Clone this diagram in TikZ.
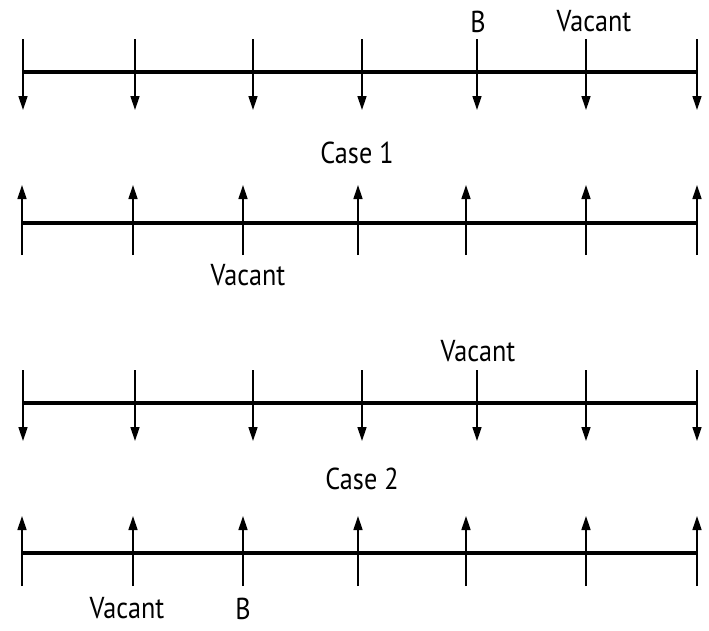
\documentclass[tikz,border=0pt]{standalone}
\usepackage{fontspec}
\setmainfont{PT Sans}
\usetikzlibrary{arrows.meta}
\newcommand{\tallTxt}[1]{\scalebox{0.97}[1.12]{#1}}
\begin{document}
\begin{tikzpicture}[x=1pt,y=-1pt,
  axis/.style={line width=3.4pt},
  tick/.style={line width=1.4pt,-{Triangle[width=9pt,length=14pt]}},
  lbl/.style={font=\fontsize{27}{30}\selectfont, inner sep=0pt, anchor=base}]
\useasboundingbox (0,0) rectangle (709,630);
% Row 1 (down arrows)
\coordinate (L1) at (23,72); \coordinate (R1) at (697,72);
\draw[axis] (L1) -- (R1);
\foreach \x [count=\i] in {23,135,253,362,477,586,697} {
  \coordinate (a\i t) at (\x,39); \coordinate (a\i b) at (\x,110);
  \draw[tick] (a\i t) -- (a\i b);
}
\node[lbl] (B1) at (478,32) {\tallTxt{B}};
\node[lbl] (V1) at (594,31) {\tallTxt{Vacant}};
\node[lbl] (C1) at (357,163) {\tallTxt{Case 1}};
% Row 2 (up arrows)
\coordinate (L2) at (22,223); \coordinate (R2) at (697,223);
\draw[axis] (L2) -- (R2);
\foreach \x [count=\i] in {22,133,243,358,466,586,697} {
  \coordinate (b\i t) at (\x,185); \coordinate (b\i b) at (\x,255);
  \draw[tick] (b\i b) -- (b\i t);
}
\node[lbl] (V2) at (248,285) {\tallTxt{Vacant}};
% Row 3 (down arrows)
\coordinate (L3) at (23,403); \coordinate (R3) at (697,403);
\draw[axis] (L3) -- (R3);
\foreach \x [count=\i] in {23,135,253,362,477,586,697} {
  \coordinate (c\i t) at (\x,370); \coordinate (c\i b) at (\x,441);
  \draw[tick] (c\i t) -- (c\i b);
}
\node[lbl] (V3) at (478,361) {\tallTxt{Vacant}};
\node[lbl] (C2) at (362,489) {\tallTxt{Case 2}};
% Row 4 (up arrows)
\coordinate (L4) at (22,553); \coordinate (R4) at (697,553);
\draw[axis] (L4) -- (R4);
\foreach \x [count=\i] in {22,133,243,358,466,586,697} {
  \coordinate (d\i t) at (\x,516); \coordinate (d\i b) at (\x,586);
  \draw[tick] (d\i b) -- (d\i t);
}
\node[lbl] (V4) at (127,618) {\tallTxt{Vacant}};
\node[lbl] (B2) at (243,619) {\tallTxt{B}};
\end{tikzpicture}
\end{document}
